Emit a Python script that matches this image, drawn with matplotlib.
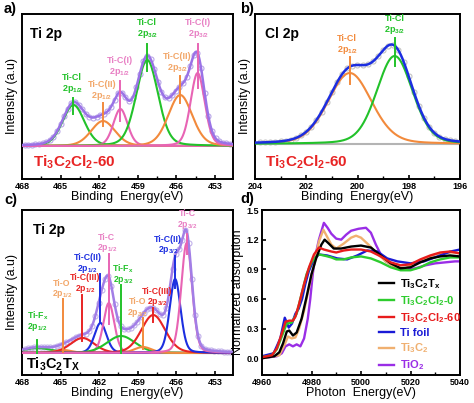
import numpy as np
import matplotlib
matplotlib.use("Agg")
from matplotlib import pyplot as plt
from matplotlib.ticker import MultipleLocator, FormatStrFormatter

plt.rcParams['font.family'] = ['Liberation Sans', 'DejaVu Sans']
plt.rcParams['font.weight'] = 'bold'
plt.rcParams['mathtext.fontset'] = 'custom'
plt.rcParams['mathtext.rm'] = 'Liberation Sans:bold'
plt.rcParams['mathtext.it'] = 'Liberation Sans:bold'
plt.rcParams['mathtext.bf'] = 'Liberation Sans:bold'
plt.rcParams['axes.linewidth'] = 1.4

# ---- a) Ti 2p, Ti3C2Cl2-60 : fitted components (center eV, height, FWHM eV)
a_names = ["Ti-Cl", "Ti-C(II)", "Ti-C(I)", "Ti-Cl", "Ti-C(II)", "Ti-C(I)"]
a_orbits = ["2p$_{1/2}$", "2p$_{1/2}$", "2p$_{1/2}$", "2p$_{3/2}$", "2p$_{3/2}$", "2p$_{3/2}$"]
a_centers = [464.0, 461.7, 460.35, 458.27, 455.7, 454.35]
a_heights = [41, 25, 37, 86, 51, 73]
a_fwhm = [2.0, 2.2, 1.3, 2.0, 2.2, 1.3]

# ---- b) Cl 2p
b_names = ["Ti-Cl", "Ti-Cl"]
b_orbits = ["2p$_{1/2}$", "2p$_{3/2}$"]
b_centers = [200.3, 198.55]
b_heights = [71, 88]
b_fwhm = [2.0, 1.65]

# ---- c) Ti 2p, Ti3C2Tx
c_names = ["Ti-F$_x$", "Ti-O", "Ti-C(III)", "Ti-C(II)", "Ti-C",
           "Ti-F$_x$", "Ti-O", "Ti-C(III)", "Ti-C(II)", "Ti-C"]
c_orbits = ["2p$_{1/2}$"] * 5 + ["2p$_{3/2}$"] * 5
c_centers = [466.8, 464.8, 463.3, 461.9, 461.25, 460.3, 458.6, 457.8, 456.1, 455.2]
c_heights = [5, 3, 15, 30, 50, 17, 6, 38, 74, 110]
c_fwhm = [2.6, 1.6, 2.2, 1.1, 1.0, 2.6, 1.6, 2.2, 1.0, 1.0]

# ---- d) Ti K-edge XANES
d_labels = ["Ti$_3$C$_2$T$_x$", "Ti$_3$C$_2$Cl$_2$-0", "Ti$_3$C$_2$Cl$_2$-60",
            "Ti foil", "Ti$_3$C$_2$", "TiO$_2$"]
tx_e = [4960, 4965, 4967, 4968.5, 4970, 4971, 4972.5, 4974, 4976, 4978, 4980, 4982, 4984,
        4985.3, 4987, 4989, 4992, 4996, 5000, 5004, 5008, 5012, 5016, 5020, 5024, 5028,
        5032, 5036, 5040]
tx_mu = [0.0, 0.02, 0.06, 0.15, 0.27, 0.28, 0.23, 0.26, 0.40, 0.62, 0.85, 1.02, 1.15,
         1.20, 1.16, 1.11, 1.11, 1.13, 1.14, 1.12, 1.04, 0.96, 0.91, 0.92, 0.97, 1.01,
         1.03, 1.04, 1.03]
cl0_e = [4960, 4964, 4966, 4968, 4970, 4972, 4974, 4976, 4978, 4980, 4982, 4983, 4985,
         4988, 4990, 4993, 4996, 5000, 5004, 5008, 5012, 5016, 5020, 5024, 5028, 5032,
         5036, 5040]
cl0_mu = [0.01, 0.03, 0.09, 0.22, 0.35, 0.36, 0.45, 0.65, 0.85, 0.97, 1.03, 1.05, 1.04,
          1.02, 1.00, 1.00, 1.02, 1.03, 1.01, 0.97, 0.92, 0.89, 0.89, 0.92, 0.97, 1.00,
          1.02, 1.02]
cl60_e = [4960, 4964, 4966, 4968, 4969.5, 4971, 4972.5, 4973.5, 4975, 4977, 4979, 4981,
          4983, 4985, 4988, 4990, 4993, 4996, 5000, 5004, 5008, 5012, 5016, 5020, 5024,
          5028, 5032, 5036, 5040]
cl60_mu = [0.01, 0.03, 0.10, 0.25, 0.37, 0.38, 0.38, 0.42, 0.55, 0.75, 0.92, 1.05, 1.12,
           1.10, 1.08, 1.07, 1.09, 1.10, 1.10, 1.08, 1.03, 0.97, 0.94, 0.95, 1.00, 1.04,
           1.07, 1.08, 1.06]
ti_e = [4960, 4964.7, 4967.4, 4969.2, 4970.8, 4972.1, 4973.5, 4974.8, 4976.2, 4977.5,
        4978.9, 4980.6, 4982.9, 4986.3, 4990.4, 4994.4, 4998.5, 5002.5, 5006.6, 5010.6,
        5014.7, 5020, 5025.5, 5030.9, 5036.2, 5040]
ti_mu = [0.02, 0.05, 0.20, 0.41, 0.31, 0.35, 0.45, 0.50, 0.60, 0.75, 0.88, 0.98, 1.05,
         1.04, 1.01, 1.00, 1.04, 1.09, 1.08, 1.01, 0.98, 0.96, 0.98, 1.03, 1.08, 1.10]
tc_e = [4960, 4967, 4969, 4970.5, 4972, 4973.5, 4975, 4977, 4979, 4981, 4983, 4984.8,
        4986.5, 4988, 4990, 4993, 4996, 4998, 5000, 5003, 5006, 5010, 5014, 5018, 5022,
        5026, 5030, 5034, 5038, 5040]
tc_mu = [0.0, 0.03, 0.13, 0.22, 0.20, 0.21, 0.30, 0.48, 0.72, 0.95, 1.18, 1.30, 1.22,
         1.15, 1.11, 1.16, 1.22, 1.24, 1.22, 1.15, 1.07, 0.98, 0.92, 0.91, 0.96, 1.01,
         1.05, 1.07, 1.07, 1.06]
tio_e = [4960, 4966, 4968, 4969.5, 4971, 4972.5, 4974, 4975.5, 4977, 4978.5, 4979.5,
         4980.5, 4981.5, 4983, 4985, 4986.5, 4988, 4990, 4992, 4994, 4996, 4999, 5002,
         5004, 5006, 5008, 5010, 5014, 5018, 5022, 5026, 5030, 5034, 5038, 5040]
tio_mu = [0.0, 0.02, 0.05, 0.12, 0.14, 0.12, 0.14, 0.12, 0.20, 0.40, 0.60, 0.85, 1.03,
          1.20, 1.37, 1.32, 1.26, 1.21, 1.20, 1.25, 1.29, 1.31, 1.32, 1.27, 1.15, 1.05,
          0.98, 0.92, 0.90, 0.91, 0.94, 0.96, 0.97, 0.98, 0.98]

GREEN, ORANGE, PINK = "#22c22a", "#f28a3c", "#e864b4"
ORANGE_T, PINK_T = "#f2a668", "#e880c4"
RED, BLUE = "#e82424", "#1c2ee0"


def pvoigt(x, c, h, w, eta=0.2):
    g = np.exp(-4 * np.log(2) * ((x - c) / w) ** 2)
    lo = 1 / (1 + ((x - c) / (w / 2)) ** 2)
    return h * (eta * lo + (1 - eta) * g)


def xps_panel(ax, xlim, centers, heights, fwhm, colors, env_color, dot_color, step):
    x = np.linspace(xlim[0], xlim[1], 800)
    comps = [pvoigt(x, c, h, w) for c, h, w in zip(centers, heights, fwhm)]
    env = np.sum(comps, axis=0)
    xd = np.arange(xlim[0] - 0.2, xlim[1], -step)
    ed = np.sum([pvoigt(xd, c, h, w) for c, h, w in zip(centers, heights, fwhm)], axis=0)
    ax.plot(xd, ed, 'o', ms=3.6, mfc='none', mec=dot_color, mew=0.8, zorder=2)
    for yc, col in zip(comps, colors):
        ax.plot(x, yc, color=col, lw=1.5, zorder=3)
    ax.plot(x, env, color=env_color, lw=1.8, zorder=4)
    ax.set_xlim(*xlim)
    ax.set_yticks([])
    ax.tick_params(axis='x', direction='in', length=3, width=1.2, labelsize=6.5, pad=2)
    ax.tick_params(axis='x', which='minor', direction='in', length=2, width=1)
    ax.set_xlabel("Binding  Energy(eV)", fontsize=9, labelpad=0)
    ax.set_ylabel("Intensity (a.u)", fontsize=9, labelpad=3)


def marks(ax, centers, names, orbits, colors, tcolors, layout, fs=6.5, gap=11.5):
    for c, n, o, col, tc, (tx, lo, hi, ty) in zip(centers, names, orbits, colors, tcolors, layout):
        ax.plot([c, c], [lo, hi], color=col, lw=1.4, zorder=5)
        ax.text(tx, ty, o, color=tc, fontsize=fs, ha='center', va='center', zorder=6)
        ax.text(tx, ty + gap, n, color=tc, fontsize=fs, ha='center', va='center', zorder=6)


fig = plt.figure(figsize=(4.74, 4.03), dpi=100)
ax_a = fig.add_axes([22 / 474, 1 - 179 / 403, 211 / 474, 165 / 403])
ax_b = fig.add_axes([255 / 474, 1 - 179 / 403, 205 / 474, 165 / 403])
ax_c = fig.add_axes([22 / 474, 1 - 375 / 403, 211 / 474, 165 / 403])
ax_d = fig.add_axes([262 / 474, 1 - 375 / 403, 198 / 474, 165 / 403])

# a)
a_cols = [GREEN, ORANGE, PINK, GREEN, ORANGE, PINK]
a_tcols = [GREEN, ORANGE_T, PINK_T, GREEN, ORANGE_T, PINK_T]
xps_panel(ax_a, (468, 451.6), a_centers, a_heights, a_fwhm, a_cols, "#9a72e6", "#b8a6e8", 0.28)
ax_a.set_ylim(-33, 132)
ax_a.xaxis.set_major_locator(MultipleLocator(3))
ax_a.xaxis.set_minor_locator(MultipleLocator(1.5))
marks(ax_a, a_centers, a_names, a_orbits, a_cols, a_tcols,
      [(464.1, 32, 48, 57), (461.8, 20, 43, 50), (460.4, 25, 65, 74),
       (458.27, 75, 102, 112), (455.9, 43, 70, 78), (454.3, 58, 102, 112)])
ax_a.text(0.04, 0.88, "Ti 2p", transform=ax_a.transAxes, fontsize=10, va='center')
ax_a.text(0.05, 0.10, "Ti$_3$C$_2$Cl$_2$-60", transform=ax_a.transAxes, fontsize=11,
          color=RED, va='center')

# b)
xb = np.linspace(204, 196, 400)
ax_b.plot(xb, np.zeros_like(xb), color="#b4b4b4", lw=1.5, zorder=2.5)
xps_panel(ax_b, (204, 196), b_centers, b_heights, b_fwhm, [ORANGE, GREEN], BLUE, "#c4c4c4", 0.2)
ax_b.set_ylim(-35, 130)
ax_b.xaxis.set_major_locator(MultipleLocator(2))
ax_b.xaxis.set_minor_locator(MultipleLocator(1))
marks(ax_b, b_centers, b_names, b_orbits, [ORANGE, GREEN], [ORANGE, GREEN],
      [(200.4, 60, 87, 94), (198.55, 78, 106, 114)])
ax_b.text(0.05, 0.88, "Cl 2p", transform=ax_b.transAxes, fontsize=10, va='center')
ax_b.text(0.05, 0.10, "Ti$_3$C$_2$Cl$_2$-60", transform=ax_b.transAxes, fontsize=11,
          color=RED, va='center')

# c)
c_cols = [GREEN, ORANGE, RED, BLUE, PINK, GREEN, ORANGE, RED, BLUE, PINK]
c_tcols = [GREEN, ORANGE_T, RED, BLUE, PINK_T, GREEN, ORANGE_T, RED, BLUE, PINK_T]
xps_panel(ax_c, (468, 451.6), c_centers, c_heights, c_fwhm, c_cols, "#a27ee6", "#c2b2ea", 0.25)
ax_c.set_ylim(-22, 143)
ax_c.xaxis.set_major_locator(MultipleLocator(3))
ax_c.xaxis.set_minor_locator(MultipleLocator(1.5))
marks(ax_c, c_centers, c_names, c_orbits, c_cols, c_tcols,
      [(466.8, 0, 13, 26), (464.9, 1, 54, 59), (463.1, 12, 58, 64), (462.9, 31, 79, 84),
       (461.4, 29, 99, 105), (460.15, 0, 68, 73), (459.0, 4, 35, 40), (457.5, 31, 45, 51),
       (456.65, 65, 97, 103), (455.15, 99, 119, 128)], fs=6.3, gap=11)
ax_c.text(0.05, 0.88, "Ti 2p", transform=ax_c.transAxes, fontsize=10, va='center')
ax_c.text(0.02, 0.065, "Ti$_3$C$_2$T$_X$", transform=ax_c.transAxes, fontsize=10.5, va='center')

# d)
d_series = [(tx_e, tx_mu), (cl0_e, cl0_mu), (cl60_e, cl60_mu), (ti_e, ti_mu),
            (tc_e, tc_mu), (tio_e, tio_mu)]
d_cols = ["#000000", "#2ecc2e", "#e81c1c", "#1a1ad6", "#f0b070", "#9a2ee6"]
order = [5, 4, 3, 1, 0, 2]
lines = [None] * 6
for i in order:
    e, mu = d_series[i]
    lines[i], = ax_d.plot(e, mu, color=d_cols[i], lw=1.7, label=d_labels[i])
ax_d.set_xlim(4960, 5040)
ax_d.set_ylim(-0.17, 1.5)
ax_d.xaxis.set_major_locator(MultipleLocator(20))
ax_d.xaxis.set_minor_locator(MultipleLocator(10))
ax_d.yaxis.set_major_locator(MultipleLocator(0.3))
ax_d.yaxis.set_major_formatter(FormatStrFormatter('%.1f'))
ax_d.tick_params(direction='in', length=3, width=1.2, labelsize=6.5, pad=2)
ax_d.tick_params(which='minor', direction='in', length=2, width=1)
ax_d.set_xlabel("Photon  Energy(eV)", fontsize=9, labelpad=0)
ax_d.set_ylabel("Normalized absorption", fontsize=9, labelpad=2)
ax_d.legend(handles=lines, loc='upper left', bbox_to_anchor=(0.59, 0.595), frameon=False,
            prop={'weight': 'bold', 'size': 8}, labelcolor=d_cols, handlelength=1.4,
            handletextpad=0.5, labelspacing=0.3, borderaxespad=0, borderpad=0)

for s, (px, py) in zip("abcd", [(4, 9), (240, 9), (4, 200), (240, 199)]):
    fig.text(px / 474, 1 - py / 403, s + ")", fontsize=10.5, va='center', ha='left')

fig.savefig("out.png", dpi=100)
